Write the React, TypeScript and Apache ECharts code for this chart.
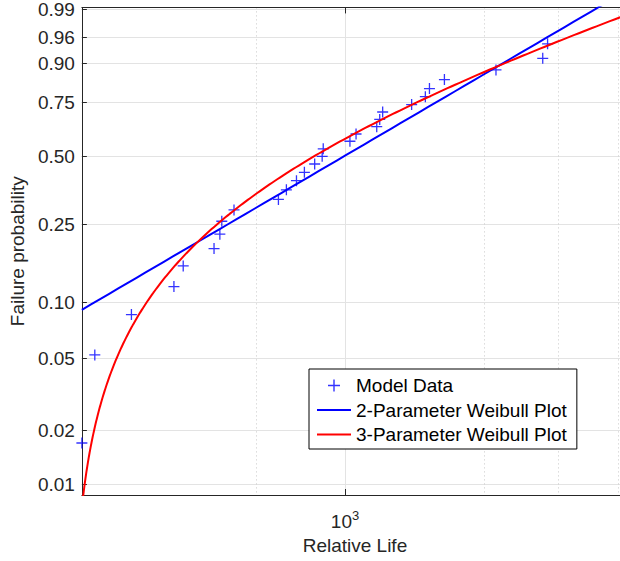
import React, { useEffect, useRef } from 'react';
import * as echarts from 'echarts';

// Model data (relative life, median-rank failure probability)
const relativeLife = [450, 468, 523, 595, 612, 672, 684, 688, 714, 817, 837, 863, 884, 912, 933, 936, 1015, 1034, 1101, 1111, 1121, 1224, 1276, 1292, 1352, 1581, 1822, 1849, 2360];
const failureProb = [0.017, 0.052, 0.086, 0.121, 0.155, 0.19, 0.224, 0.259, 0.293, 0.328, 0.362, 0.397, 0.431, 0.466, 0.5, 0.534, 0.569, 0.603, 0.638, 0.672, 0.707, 0.741, 0.776, 0.81, 0.845, 0.879, 0.914, 0.948, 0.983];

// Axis ticks
const yTickProbs = [0.01, 0.02, 0.05, 0.1, 0.25, 0.5, 0.75, 0.9, 0.96, 0.99];
const yTickLabels = ['0.01', '0.02', '0.05', '0.10', '0.25', '0.50', '0.75', '0.90', '0.96', '0.99'];
const yLimits = [0.00873, 0.99118];
const xMajorTicks = [1000];
const xMinorGrid = [764, 1528, 1910, 2292];

// Fitted models
const weibull2 = { shape: 2.49, scale: 1155 };
const weibull3 = { shape: 1.31, scale: 629, location: 435 };

const FONT = '"Liberation Sans", Arial, Helvetica, sans-serif';
const AXIS_COLOR = '#262626';
const crossPath = 'path://M4.85,0H6.15V4.85H11V6.15H6.15V11H4.85V6.15H0V4.85H4.85Z';
const barPath = 'path://M0,0H34V2H0Z';

const wbl = (p: number) => Math.log(-Math.log(1 - p));

export default function App() {
  const ref = useRef<HTMLDivElement>(null);
  useEffect(() => {
    if (!ref.current) return;
    const chart = echarts.init(ref.current, undefined, { renderer: 'svg' });
    const xMin = Math.log10(relativeLife[0]);
    const xMax = Math.log10(relativeLife[relativeLife.length - 1]);
    const yTickW = yTickProbs.map(wbl);

    const scatterData = relativeLife.map((x, i) => [Math.log10(x), wbl(failureProb[i])]);

    const line2: number[][] = [];
    for (let k = 0; k <= 60; k++) {
      const X = xMin + ((xMax - xMin) * k) / 60;
      const x = Math.pow(10, X);
      line2.push([X, weibull2.shape * (Math.log(x) - Math.log(weibull2.scale))]);
    }
    const line3: number[][] = [];
    const tMin = Math.log(12);
    const tMax = Math.log(relativeLife[relativeLife.length - 1] - weibull3.location);
    for (let k = 0; k <= 300; k++) {
      const t = Math.exp(tMin + ((tMax - tMin) * k) / 300);
      const x = weibull3.location + t;
      line3.push([Math.log10(x), weibull3.shape * (Math.log(t) - Math.log(weibull3.scale))]);
    }

    const xTickVals = xMajorTicks.map((v) => Math.log10(v));
    const xMinorVals = xMinorGrid.map((v) => Math.log10(v));

    chart.setOption({
      animation: false,
      grid: { left: 78, top: 5, width: 550, height: 490, containLabel: false },
      xAxis: [
        {
          type: 'value',
          position: 'bottom',
          min: xMin,
          max: xMax,
          name: 'Relative Life',
          nameLocation: 'middle',
          nameGap: 41,
          nameTextStyle: { fontSize: 19, color: AXIS_COLOR, fontFamily: FONT },
          axisLine: { show: true, onZero: false, lineStyle: { color: AXIS_COLOR, width: 1 } },
          axisTick: { show: true, inside: true, length: 6, customValues: xTickVals, lineStyle: { color: AXIS_COLOR } },
          axisLabel: {
            customValues: xTickVals,
            margin: 14,
            formatter: (v: number) => '{a|10}{b|' + Math.round(v) + '}',
            rich: {
              a: { fontSize: 19, lineHeight: 24, color: AXIS_COLOR, fontFamily: FONT },
              b: { fontSize: 13, lineHeight: 10, verticalAlign: 'top', color: AXIS_COLOR, fontFamily: FONT },
            },
          },
          splitLine: { show: true, lineStyle: { color: '#e3e3e3', width: 1 } },
        },
        {
          type: 'value',
          position: 'top',
          min: xMin,
          max: xMax,
          axisLine: { show: true, onZero: false, lineStyle: { color: AXIS_COLOR, width: 1 } },
          axisTick: { show: true, inside: true, length: 6, customValues: xTickVals, lineStyle: { color: AXIS_COLOR } },
          axisLabel: { show: false },
          splitLine: { show: false },
        },
        {
          type: 'value',
          position: 'top',
          min: xMin,
          max: xMax,
          axisLine: { show: false, onZero: false },
          axisTick: { show: false, customValues: xMinorVals },
          axisLabel: { show: false, customValues: xMinorVals },
          splitLine: { show: true, lineStyle: { color: '#c8c8c8', width: 1, type: [1, 3] } },
        },
      ],
      yAxis: {
        type: 'value',
        min: wbl(yLimits[0]),
        max: wbl(yLimits[1]),
        name: 'Failure probability',
        nameLocation: 'middle',
        nameGap: 48,
        nameTextStyle: { fontSize: 19, color: AXIS_COLOR, fontFamily: FONT },
        axisLine: { show: true, onZero: false, lineStyle: { color: AXIS_COLOR, width: 1 } },
        axisTick: { show: true, inside: true, length: 5, customValues: yTickW, lineStyle: { color: AXIS_COLOR } },
        axisLabel: {
          customValues: yTickW,
          margin: 7,
          fontSize: 19,
          color: AXIS_COLOR,
          fontFamily: FONT,
          formatter: (v: number) => {
            let best = 0;
            for (let i = 1; i < yTickW.length; i++) {
              if (Math.abs(yTickW[i] - v) < Math.abs(yTickW[best] - v)) best = i;
            }
            return yTickLabels[best];
          },
        },
        splitLine: { show: true, lineStyle: { color: '#e3e3e3', width: 1 } },
      },
      legend: {
        orient: 'vertical',
        left: 309,
        top: 369,
        padding: [7, 10, 5, 8],
        itemWidth: 34,
        itemHeight: 12,
        itemGap: 5.5,
        backgroundColor: '#ffffff',
        borderColor: '#000000',
        borderWidth: 1,
        borderRadius: 0,
        selectedMode: false,
        itemStyle: { borderWidth: 0 },
        textStyle: { fontSize: 19, color: '#000000', fontFamily: FONT },
        data: [
          { name: 'Model Data', icon: crossPath },
          { name: '2-Parameter Weibull Plot', icon: barPath },
          { name: '3-Parameter Weibull Plot', icon: barPath },
        ],
      },
      series: [
        {
          name: 'Model Data',
          type: 'scatter',
          data: scatterData,
          symbol: crossPath,
          symbolSize: 11,
          color: '#0000ff',
          itemStyle: { color: '#0000ff' },
        },
        {
          name: '2-Parameter Weibull Plot',
          type: 'line',
          data: line2,
          showSymbol: false,
          symbol: 'none',
          color: '#0000ff',
          lineStyle: { color: '#0000ff', width: 2 },
          itemStyle: { color: '#0000ff' },
        },
        {
          name: '3-Parameter Weibull Plot',
          type: 'line',
          data: line3,
          showSymbol: false,
          symbol: 'none',
          color: '#ff0000',
          lineStyle: { color: '#ff0000', width: 2 },
          itemStyle: { color: '#ff0000' },
        },
      ],
    });
    return () => chart.dispose();
  }, []);

  return (
    <div style={{ position: 'absolute', left: 0, top: 0, width: 620, height: 561, overflow: 'hidden', background: '#fff' }}>
      <div ref={ref} style={{ width: 680, height: 561 }} />
    </div>
  );
}
